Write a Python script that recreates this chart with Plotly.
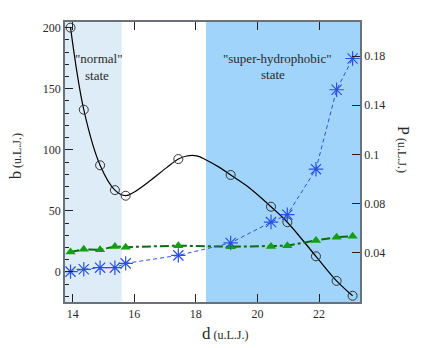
import plotly.graph_objects as go

# separation d (u.L.J.)
d = [13.93, 14.36, 14.89, 15.37, 15.72, 17.43, 19.13, 20.44, 20.97, 21.90, 22.57, 23.09]
# b (u.L.J.) - open circles
b = [200, 132.8, 87.3, 67.0, 62.4, 92.4, 79.4, 53.4, 40.7, 12.8, -7.3, -19.5]
# smooth curve through b
d_curve = [13.93, 14.36, 14.89, 15.37, 15.72, 15.97, 16.51, 17.05, 17.43, 17.70,
           18.03, 18.35, 18.78, 19.13, 19.65, 20.44, 20.97, 21.90, 22.57, 23.09]
b_curve = [200, 132.8, 87.3, 67.0, 62.4, 65.0, 74.6, 85.4, 92.4, 94.9,
           95.0, 91.5, 85.4, 79.4, 70.5, 53.4, 40.7, 12.8, -7.3, -19.5]
# green triangles (left axis)
tri = [16.3, 18.5, 18.2, 20.9, 20.3, 21.5, 20.6, 20.9, 21.5, 25.8, 28.5, 29.3]
# P (u.L.J.) - blue stars (right axis)
p = [0.0247, 0.0266, 0.0279, 0.0279, 0.0314, 0.0379, 0.048, 0.065, 0.071, 0.108, 0.1726, 0.198]

p_tickvals = [0.04, 0.08, 0.12, 0.16, 0.20]
p_ticktext = ["0.04", "0.08", "0.1", "0.14", "0.18"]

serif = "'Liberation Serif', serif"
axis_col = "#6b7178"
text_col = "#2a2a2a"

fig = go.Figure()

# shaded state regions
fig.add_shape(type="rect", xref="x", yref="paper", x0=13.75, x1=15.59, y0=0, y1=1,
              fillcolor="#deecf8", line=dict(width=0), layer="below")
fig.add_shape(type="rect", xref="x", yref="paper", x0=18.33, x1=23.33, y0=0, y1=1,
              fillcolor="#a0d4fa", line=dict(width=0), layer="below")

fig.add_trace(go.Scatter(x=d_curve, y=b_curve, mode="lines",
                         line=dict(color="black", width=1.2, shape="spline", smoothing=1.0),
                         showlegend=False, hoverinfo="skip"))
fig.add_trace(go.Scatter(x=d, y=b, mode="markers", name="b",
                         marker=dict(symbol="circle-open", size=9, color="#333",
                                     line=dict(width=1))))
fig.add_trace(go.Scatter(x=d, y=tri, mode="lines+markers", name="tri",
                         line=dict(color="#0b6a14", width=2, dash="dashdot"),
                         marker=dict(symbol="triangle-up", size=9, color="#10a010")))
fig.add_trace(go.Scatter(x=d, y=p, mode="lines+markers", name="P", yaxis="y2",
                         line=dict(color="#2a52e0", width=1, dash="4px,3px"),
                         marker=dict(symbol="asterisk-open", size=12,
                                     line=dict(color="#1a35e8", width=1.2))))

tickfont = dict(family=serif, size=12, color=text_col)

# page body adds an 8px offset, so the figure is 8px smaller than the window
fig.update_layout(
    width=428, height=340,
    margin=dict(l=57, r=76, t=12, b=46),
    plot_bgcolor="white", paper_bgcolor="white",
    font=dict(family=serif),
    showlegend=False,
    xaxis=dict(range=[13.75, 23.33], tickvals=[14, 16, 18, 20, 22],
               ticks="inside", ticklen=8, tickcolor="#222", showline=True,
               linecolor=axis_col, linewidth=1.5, mirror="ticks",
               showgrid=False, zeroline=False, tickfont=tickfont),
    yaxis=dict(range=[-24.6, 204.6], tick0=0, dtick=50,
               ticks="inside", ticklen=8, tickcolor="#222",
               minor=dict(dtick=10, ticks="inside", ticklen=4, tickcolor="#222"),
               showline=True, linecolor=axis_col, linewidth=1.5,
               showgrid=False, zeroline=False, tickfont=tickfont),
    yaxis2=dict(range=[0, 0.2277], overlaying="y", side="right",
                tickvals=p_tickvals, ticktext=p_ticktext,
                ticks="inside", ticklen=8, tickcolor="#222",
                showline=True, linecolor=axis_col, linewidth=1.5,
                showgrid=False, zeroline=False, tickfont=tickfont),
)

ann_font = dict(family=serif, size=13, color=text_col)
annotations = [
    dict(text='"normal"', x=14.83, y=57),
    dict(text="state", x=14.78, y=74),
    dict(text='"super-hydrophobic"', x=20.65, y=57),
    dict(text="state", x=20.5, y=73),
]
for a in annotations:
    fig.add_annotation(text=a["text"], x=a["x"], xref="x",
                       y=1 - (a["y"] - 20) / 282, yref="paper",
                       showarrow=False, font=ann_font, xanchor="center", yanchor="middle")

# axis titles
fig.add_annotation(text="<span style='font-size:17px'>d</span> (u.L.J.)",
                   x=(226 - 65) / 295, xref="paper", y=1 - (334 - 20) / 282, yref="paper",
                   showarrow=False, font=dict(family=serif, size=12, color=text_col),
                   xanchor="center", yanchor="middle")
fig.add_annotation(text="<span style='font-size:16px'>b</span> (u.L.J.)", textangle=-90,
                   x=(15 - 65) / 295, xref="paper", y=1 - (155 - 20) / 282, yref="paper",
                   showarrow=False, font=dict(family=serif, size=12, color=text_col),
                   xanchor="center", yanchor="middle")
fig.add_annotation(text="<span style='font-size:16px'>P</span> (u.L.J.)", textangle=90,
                   x=(404 - 65) / 295, xref="paper", y=1 - (148 - 20) / 282, yref="paper",
                   showarrow=False, font=dict(family=serif, size=12, color=text_col),
                   xanchor="center", yanchor="middle")

fig.write_html("out.html")
